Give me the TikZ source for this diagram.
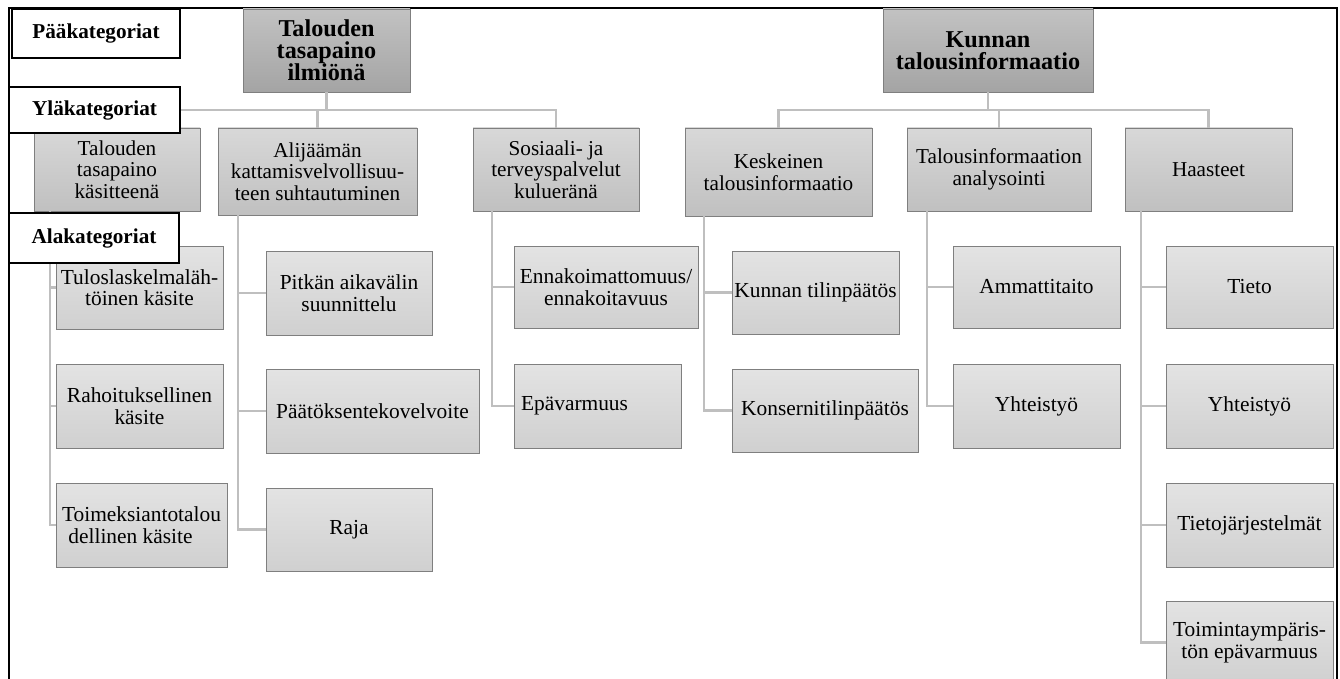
\documentclass[tikz,border=0pt]{standalone}
\usepackage{fontspec}
\setmainfont{Liberation Serif}
\definecolor{boxedge}{HTML}{7F7F7F}
\definecolor{connc}{HTML}{BFBFBF}
\definecolor{mtop}{HTML}{C2C2C2}
\definecolor{mbot}{HTML}{A4A4A4}
\definecolor{ltop}{HTML}{D8D8D8}
\definecolor{lbot}{HTML}{C0C0C0}
\definecolor{stop}{HTML}{E3E3E3}
\definecolor{sbot}{HTML}{D0D0D0}
\begin{document}
\begin{tikzpicture}[x=1pt,y=-1pt,
  gbox/.style={draw=boxedge, line width=0.9pt, align=center, inner sep=1.5pt},
  mainbox/.style={gbox, top color=mtop, bottom color=mbot, font=\fontsize{24.2}{22}\selectfont\bfseries},
  lvltwo/.style={gbox, top color=ltop, bottom color=lbot, font=\fontsize{21.2}{21.5}\selectfont},
  lvlthree/.style={gbox, top color=stop, bottom color=sbot, font=\fontsize{21.4}{21.5}\selectfont},
  tag/.style={draw=black, line width=1.3pt, fill=white, font=\fontsize{21.2}{22}\selectfont\bfseries},
  conn/.style={draw=connc, line width=2.2pt}]
\useasboundingbox (0,0) rectangle (1340,679);
\clip (0,0) rectangle (1340,679);
\fill[white] (0,0) rectangle (1340,679);
% frame
\draw[line width=2pt] (9,690) -- (9,8) -- (1337,8) -- (1337,690);

% main categories
\node[mainbox, minimum width=167, minimum height=83] (m1) at (326.5,50.5) {Talouden\\tasapaino\\ilmiönä};
\node[mainbox, minimum width=210, minimum height=83] (m2) at (988,50.5) {Kunnan\\talousinformaatio};

% upper categories
\node[lvltwo, minimum width=166, minimum height=83] (a1) at (117,169.5) {Talouden\\tasapaino\\käsitteenä};
\node[lvltwo, minimum width=199, minimum height=87] (a2) at (317.5,171.5) {Alijäämän\\kattamisvelvollisuu-\\teen suhtautuminen};
\node[lvltwo, minimum width=166, minimum height=83] (a3) at (556,169.5) {Sosiaali- ja\\terveyspalvelut\\kulueränä};
\node[lvltwo, minimum width=187, minimum height=88] (b1) at (778.5,172) {Keskeinen\\talousinformaatio};
\node[lvltwo, minimum width=184, minimum height=83] (b2) at (999,169.5) {Talousinformaation\\analysointi};
\node[lvltwo, minimum width=167, minimum height=83] (b3) at (1208.5,169.5) {Haasteet};

% sub categories
\node[lvlthree, minimum width=167, minimum height=83] (a11) at (139.5,287.5) {Tuloslaskelmaläh-\\töinen käsite};
\node[lvlthree, minimum width=167, minimum height=84] (a12) at (139.5,406) {Rahoituksellinen\\käsite};
\node[lvlthree, minimum width=171, minimum height=84] (a13) at (141.5,525) {Toimeksiantotalou\\dellinen käsite\hspace*{22pt}};
\node[lvlthree, minimum width=166, minimum height=84] (a21) at (349,293) {Pitkän aikavälin\\suunnittelu};
\node[lvlthree, minimum width=213, minimum height=84] (a22) at (372.5,411) {Päätöksentekovelvoite};
\node[lvlthree, minimum width=166, minimum height=83] (a23) at (349,529.5) {Raja};
\node[lvlthree, minimum width=184, minimum height=82] (a31) at (606,287) {Ennakoimattomuus/\\ennakoitavuus};
\node[lvlthree, minimum width=167, minimum height=84] (a32) at (597.5,406) {Epävarmuus\hspace*{46pt}};
\node[lvlthree, minimum width=167, minimum height=83] (b11) at (815.5,292.5) {Kunnan tilinpäätös};
\node[lvlthree, minimum width=186, minimum height=83] (b12) at (825,410.5) {Konsernitilinpäätös};
\node[lvlthree, minimum width=167, minimum height=82] (b21) at (1036.5,287) {Ammattitaito};
\node[lvlthree, minimum width=167, minimum height=84] (b22) at (1036.5,406) {Yhteistyö};
\node[lvlthree, minimum width=167, minimum height=82] (b31) at (1249.5,287) {Tieto};
\node[lvlthree, minimum width=167, minimum height=84] (b32) at (1249.5,406) {Yhteistyö};
\node[lvlthree, minimum width=167, minimum height=84] (b33) at (1249.5,525) {Tietojärjestelmät};
\node[lvlthree, minimum width=167, minimum height=83] (b34) at (1249.5,642.5) {Toimintaympäris-\\tön epävarmuus};

% connectors
\coordinate (bar) at (0,110);
\foreach \c in {a1,a2,a3} \draw[conn] (m1.south) -- (m1.south |- bar) -| (\c.north);
\foreach \c in {b1,b2,b3} \draw[conn] (m2.south) -- (m2.south |- bar) -| (\c.north);

\coordinate (sa1) at (50,0);
\coordinate (sa2) at (238,0);
\coordinate (sa3) at (492,0);
\coordinate (sb1) at (704,0);
\coordinate (sb2) at (927,0);
\coordinate (sb3) at (1141,0);
\foreach \c in {a11,a12,a13} \draw[conn] (a1.south -| sa1) |- (\c.west);
\foreach \c in {a21,a22,a23} \draw[conn] (a2.south -| sa2) |- (\c.west);
\foreach \c in {a31,a32} \draw[conn] (a3.south -| sa3) |- (\c.west);
\foreach \c in {b11,b12} \draw[conn] (b1.south -| sb1) |- (\c.west);
\foreach \c in {b21,b22} \draw[conn] (b2.south -| sb2) |- (\c.west);
\foreach \c in {b31,b32,b33,b34} \draw[conn] (b3.south -| sb3) |- (\c.west);

% level tags
\node[tag, minimum width=168, minimum height=49] (t1) at (96,33.5) {Pääkategoriat};
\node[tag, minimum width=171, minimum height=46] (t2) at (94.5,110) {Yläkategoriat};
\node[tag, minimum width=170, minimum height=50] (t3) at (94,238) {Alakategoriat};
\end{tikzpicture}
\end{document}
